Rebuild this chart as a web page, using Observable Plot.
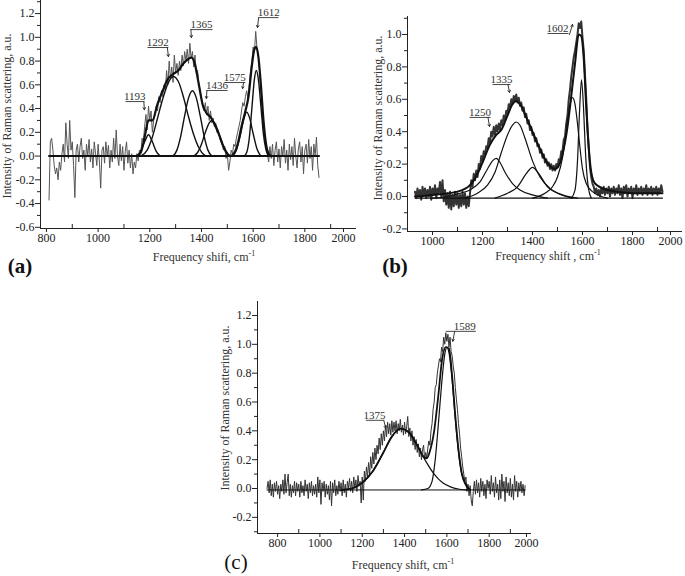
<!DOCTYPE html>
<html><head><meta charset="utf-8">
<script src="https://cdn.jsdelivr.net/npm/d3@7"></script>
<script src="https://cdn.jsdelivr.net/npm/@observablehq/plot@0.6"></script>
<style>
body{margin:0;background:#fff;}
#wrap{position:relative;width:685px;height:576px;overflow:hidden;background:#fff;font-family:"Liberation Serif","Times New Roman",serif;color:#222;}
#wrap svg{position:absolute;left:0;top:0;}
.lbl{position:absolute;white-space:nowrap;font-size:12px;color:#333;transform:translate(-50%,-50%);}
.ylbl{transform:translate(-50%,-50%) rotate(-90deg);}
.pl{position:absolute;font-size:21px;color:#111;transform:translate(-50%,-50%);}
</style></head><body><div id="wrap"></div>
<script>
// ---------- Panel (a) raw spectrum, x from 810 step 5 ----------
const rawA_x0 = 810, rawA_dx = 5;
const rawA = [
-0.37,0.12,0.15,0.05,-0.08,-0.15,-0.1,-0.2,-0.05,-0.12,
0.02,0.1,-0.05,0.28,0.1,-0.02,0.3,0.05,0.12,-0.08,
-0.35,0.05,0.1,-0.05,0.08,0.15,-0.02,0.05,-0.12,0.1,
0.0,0.14,-0.05,0.06,-0.1,0.12,0.02,-0.08,0.1,-0.05,
-0.27,0.05,0.08,-0.06,0.12,0.0,0.09,-0.1,0.05,-0.05,
0.15,-0.02,0.22,0.0,-0.08,0.1,-0.04,0.08,-0.12,0.04,
0.12,-0.06,0.05,-0.1,0.02,-0.15,-0.05,-0.1,0.02,-0.04,
0.05,0.02,0.15,0.12,0.25,0.35,0.22,0.42,0.3,0.38,
0.2,0.3,0.35,0.42,0.38,0.5,0.45,0.55,0.5,0.6,
0.55,0.72,0.6,0.8,0.65,0.75,0.62,0.85,0.7,0.78,
0.68,0.8,0.72,0.85,0.76,0.88,0.8,0.9,0.78,0.95,
0.82,0.88,0.75,0.85,0.7,0.72,0.6,0.55,0.48,0.42,
0.38,0.45,0.35,0.42,0.3,0.38,0.28,0.32,0.25,0.28,
0.2,0.22,0.15,0.12,0.1,0.05,0.08,-0.02,0.02,-0.12,
-0.05,0.05,0.02,0.1,0.08,0.15,0.2,0.25,0.3,0.38,
0.45,0.42,0.5,0.55,0.48,0.6,0.72,0.8,0.92,0.88,
1.05,0.9,0.85,0.7,0.55,0.42,0.25,0.15,0.08,0.02,
-0.05,0.08,-0.02,0.1,-0.08,0.05,0.12,-0.05,0.06,-0.1,
0.08,0.0,0.14,-0.06,0.05,-0.12,0.1,-0.03,0.08,-0.08,
0.15,0.0,-0.1,0.06,0.12,-0.05,0.08,-0.15,0.05,0.1,
-0.06,0.14,-0.02,0.08,-0.12,0.1,0.0,0.16,-0.08,-0.18];
const baseA = [[810,0],[1855,0]];
const fitA_1193 = [[1150,0],[1165,0.04],[1180,0.12],[1195,0.18],[1210,0.12],[1225,0.04],[1240,0]];
const fitA_1292 = [[1165,0],[1190,0.05],[1210,0.16],[1230,0.32],[1250,0.48],[1270,0.61],[1290,0.67],[1310,0.63],[1330,0.5],[1350,0.33],[1370,0.18],[1390,0.07],[1410,0.01],[1420,0]];
const fitA_1365 = [[1290,0],[1305,0.05],[1320,0.17],[1335,0.34],[1350,0.49],[1365,0.55],[1380,0.49],[1395,0.34],[1410,0.17],[1425,0.05],[1440,0]];
const fitA_1436 = [[1370,0],[1385,0.03],[1400,0.1],[1415,0.2],[1430,0.28],[1440,0.3],[1455,0.26],[1470,0.17],[1485,0.08],[1500,0.02],[1510,0]];
const fitA_1575 = [[1520,0],[1535,0.05],[1550,0.17],[1565,0.32],[1575,0.37],[1585,0.33],[1600,0.19],[1615,0.06],[1630,0]];
const fitA_1612 = [[1565,0],[1575,0.03],[1585,0.15],[1595,0.4],[1605,0.65],[1612,0.72],[1620,0.65],[1630,0.42],[1640,0.18],[1650,0.05],[1660,0]];
const envA = [[1150,0],[1165,0.03],[1180,0.16],[1195,0.3],[1210,0.3],[1230,0.44],[1250,0.55],[1270,0.65],[1290,0.69],[1310,0.72],[1330,0.78],[1350,0.82],[1362,0.83],[1375,0.77],[1390,0.6],[1405,0.43],[1420,0.36],[1435,0.33],[1450,0.27],[1470,0.17],[1485,0.08],[1500,0.02],[1512,0],[1525,0.02],[1540,0.1],[1555,0.25],[1570,0.38],[1582,0.5],[1595,0.76],[1605,0.9],[1612,0.92],[1620,0.84],[1630,0.6],[1640,0.3],[1650,0.1],[1660,0.02],[1670,0]];
// peak labels: text centre (tx,ty), underline (ux1..ux2 at uy), arrow (x1,y1)->(x2,y2)
const annA = [
 {label:"1193", tx:1142, ty:0.50, ux1:1106, ux2:1179, uy:0.459, x1:1177, y1:0.459, x2:1179, y2:0.39},
 {label:"1292", tx:1231, ty:0.955, ux1:1191, ux2:1272, uy:0.914, x1:1268, y1:0.914, x2:1272, y2:0.838},
 {label:"1365", tx:1400, ty:1.106, ux1:1357, ux2:1443, uy:1.065, x1:1359, y1:1.065, x2:1361, y2:0.998},
 {label:"1436", tx:1460, ty:0.593, ux1:1419, ux2:1501, uy:0.552, x1:1421, y1:0.552, x2:1419, y2:0.484},
 {label:"1575", tx:1529, ty:0.66, ux1:1489, ux2:1570, uy:0.619, x1:1563, y1:0.619, x2:1559, y2:0.568},
 {label:"1612", tx:1660, ty:1.207, ux1:1621, ux2:1698, uy:1.166, x1:1621, y1:1.166, x2:1617, y2:1.082}];
const xTicksA = [800,1000,1200,1400,1600,1800];
const xMinorA = [900,1100,1300,1500,1700,1900];
const yTicksA = [-0.6,-0.4,-0.2,0,0.2,0.4,0.6,0.8,1.0,1.2];
const yMinorA = [-0.5,-0.3,-0.1,0.1,0.3,0.5,0.7,0.9,1.1,1.3];

// ---------- Panel (b) ----------
const rawB_x0 = 930, rawB_dx = 5;
const rawB = [
0.03,-0.01,0.05,0.0,0.04,-0.02,0.06,0.01,0.05,-0.01,
0.04,0.0,0.06,-0.02,0.05,0.01,0.07,-0.01,0.05,0.02,
0.09,0.0,0.1,-0.03,0.04,-0.05,0.02,-0.07,0.03,-0.08,
0.01,-0.06,0.03,-0.05,0.02,-0.07,0.01,-0.06,0.03,-0.05,
0.02,-0.07,0.0,-0.06,0.02,0.1,0.06,0.14,0.1,0.16,
0.12,0.2,0.17,0.25,0.22,0.28,0.26,0.31,0.3,0.36,
0.33,0.4,0.37,0.43,0.38,0.44,0.4,0.45,0.41,0.47,
0.44,0.5,0.47,0.53,0.51,0.57,0.55,0.6,0.57,0.62,
0.59,0.63,0.58,0.61,0.56,0.58,0.53,0.55,0.49,0.51,
0.45,0.47,0.41,0.43,0.38,0.39,0.34,0.36,0.31,0.32,
0.27,0.29,0.24,0.26,0.21,0.23,0.19,0.21,0.17,0.2,
0.16,0.19,0.16,0.2,0.18,0.23,0.22,0.28,0.28,0.35,
0.37,0.45,0.5,0.6,0.66,0.74,0.8,0.86,0.9,0.95,
1.0,1.07,1.04,1.08,0.98,0.9,0.75,0.6,0.42,0.3,
0.18,0.12,0.08,0.06,0.02,0.05,0.01,0.04,0.0,0.05,
0.02,0.06,0.01,0.05,0.02,0.06,0.0,0.05,0.02,0.06,
0.01,0.05,0.02,0.07,0.01,0.05,-0.01,0.06,0.02,0.07,
0.0,0.05,0.02,0.06,-0.01,0.05,0.02,0.07,0.01,0.05,
0.02,0.06,0.01,0.05,0.02,0.07,0.01,0.05,0.02,0.06,
0.01,0.05,0.02,0.06,0.01,0.05,0.02,0.07,0.03];
const baseB = [[930,-0.01],[1920,-0.01]];
const fitB_1250 = [[1000,-0.01],[1060,0.0],[1110,0.02],[1150,0.04],[1190,0.09],[1220,0.17],[1240,0.22],[1255,0.235],[1270,0.21],[1290,0.15],[1320,0.08],[1350,0.04],[1400,0.01],[1460,-0.01]];
const fitB_1335 = [[1130,-0.01],[1180,0.02],[1220,0.07],[1250,0.15],[1275,0.27],[1300,0.38],[1320,0.44],[1335,0.46],[1350,0.44],[1370,0.36],[1400,0.22],[1430,0.12],[1470,0.05],[1520,0.01],[1580,-0.01]];
const fitB_1400 = [[1250,-0.01],[1300,0.02],[1340,0.06],[1370,0.13],[1390,0.17],[1400,0.18],[1410,0.17],[1430,0.13],[1460,0.06],[1500,0.02],[1560,-0.01]];
const fitB_1560 = [[1400,-0.01],[1450,0.02],[1480,0.06],[1500,0.12],[1520,0.24],[1535,0.4],[1548,0.55],[1560,0.61],[1570,0.57],[1580,0.45],[1590,0.3],[1600,0.17],[1615,0.08],[1640,0.03],[1700,-0.01]];
const fitB_1600 = [[1555,-0.01],[1570,0.04],[1580,0.22],[1588,0.52],[1596,0.72],[1604,0.55],[1612,0.27],[1622,0.07],[1635,-0.01]];
const envB = [[930,0.0],[1000,0.01],[1100,0.03],[1150,0.07],[1180,0.14],[1200,0.21],[1230,0.32],[1255,0.38],[1275,0.41],[1300,0.5],[1320,0.57],[1335,0.59],[1350,0.57],[1375,0.49],[1400,0.4],[1425,0.31],[1450,0.23],[1475,0.18],[1490,0.17],[1505,0.19],[1520,0.26],[1540,0.43],[1555,0.62],[1570,0.82],[1585,1.0],[1595,0.99],[1605,0.85],[1615,0.55],[1625,0.3],[1635,0.15],[1650,0.08],[1700,0.04],[1800,0.02],[1920,0.02]];
const annB = [
 {label:"1250", tx:1190, ty:0.519, ux1:1148, ux2:1232, uy:0.488, x1:1222, y1:0.488, x2:1228, y2:0.432},
 {label:"1335", tx:1276, ty:0.722, ux1:1240, ux2:1312, uy:0.691, x1:1302, y1:0.691, x2:1308, y2:0.642},
 {label:"1602", tx:1500, ty:1.037, ux1:1460, ux2:1544, uy:1.006, x1:1548, y1:1.0, x2:1560, y2:1.062}];
const xTicksB = [1000,1200,1400,1600,1800];
const xMinorB = [1100,1300,1500,1700,1900];
const yTicksB = [-0.2,0,0.2,0.4,0.6,0.8,1.0];
const yMinorB = [-0.1,0.1,0.3,0.5,0.7,0.9,1.1];

// ---------- Panel (c) ----------
const rawC_x0 = 750, rawC_dx = 5;
const rawC = [
0.0,0.05,-0.03,0.06,-0.05,0.03,-0.06,0.04,-0.02,0.05,
-0.04,0.02,-0.07,0.03,-0.02,0.06,-0.04,0.1,-0.03,0.04,
0.1,-0.05,0.03,-0.06,0.02,-0.03,0.05,-0.05,0.04,-0.02,
0.03,-0.06,0.05,-0.03,0.02,-0.05,0.06,-0.02,0.03,-0.07,
0.04,-0.03,0.05,-0.05,0.02,-0.04,0.03,-0.06,0.08,-0.03,
0.06,-0.11,0.04,-0.02,0.05,-0.06,0.03,-0.04,0.02,-0.08,
0.05,-0.12,0.04,-0.03,0.06,-0.05,0.02,-0.04,0.05,-0.02,
0.04,-0.05,0.06,-0.03,0.03,-0.06,0.05,0.0,0.07,-0.02,
0.05,-0.03,0.08,0.0,0.06,-0.02,0.09,0.02,0.05,-0.1,
0.08,-0.08,0.12,0.05,0.15,0.08,0.18,0.1,0.22,0.14,
0.25,0.17,0.28,0.2,0.3,0.24,0.35,0.27,0.38,0.3,
0.4,0.33,0.44,0.36,0.46,0.38,0.45,0.37,0.47,0.39,
0.46,0.4,0.47,0.38,0.45,0.4,0.48,0.39,0.44,0.37,
0.46,0.38,0.43,0.5,0.36,0.42,0.33,0.4,0.3,0.36,
0.27,0.34,0.25,0.31,0.22,0.28,0.2,0.27,0.3,0.2,
0.25,0.21,0.28,0.33,0.3,0.4,0.45,0.55,0.6,0.7,
0.72,0.8,0.85,0.9,0.88,0.98,0.95,1.05,1.0,1.08,
1.02,1.07,0.98,1.05,0.95,0.92,0.85,0.8,0.7,0.62,
0.55,0.45,0.38,0.28,0.22,0.15,0.1,0.05,0.08,-0.02,
0.03,-0.05,0.02,-0.08,-0.12,-0.02,0.05,-0.04,0.06,-0.03,
0.04,-0.06,0.07,-0.02,0.05,-0.05,0.03,-0.07,0.06,0.0,
0.05,-0.04,0.09,-0.02,0.04,-0.06,0.08,-0.03,0.03,-0.08,
0.06,-0.07,0.1,-0.02,0.05,-0.09,0.08,-0.03,0.04,-0.05,
0.07,-0.06,0.03,-0.08,0.09,-0.02,0.05,-0.06,0.04,-0.02,
0.05,-0.03,0.03,-0.05,0.02];
const baseC = [[750,-0.01],[1970,-0.01]];
const fitC_1375 = [[1100,-0.01],[1150,0.0],[1200,0.04],[1250,0.12],[1300,0.25],[1340,0.36],[1380,0.415],[1420,0.39],[1460,0.3],[1500,0.19],[1540,0.1],[1580,0.04],[1620,0.01],[1660,-0.005],[1700,-0.01]];
const fitC_1589 = [[1480,-0.01],[1510,0.0],[1530,0.05],[1545,0.2],[1560,0.45],[1575,0.72],[1590,0.93],[1600,0.98],[1610,0.94],[1625,0.75],[1640,0.48],[1655,0.25],[1670,0.1],[1690,0.02],[1710,-0.01]];
const envC = [[1100,-0.01],[1150,0.0],[1200,0.04],[1250,0.12],[1300,0.25],[1340,0.36],[1380,0.415],[1420,0.39],[1460,0.3],[1490,0.22],[1505,0.21],[1520,0.26],[1540,0.4],[1560,0.65],[1578,0.9],[1595,0.98],[1610,0.97],[1625,0.78],[1640,0.5],[1655,0.27],[1670,0.11],[1690,0.03],[1710,-0.01]];
const annC = [
 {label:"1375", tx:1258, ty:0.505, ux1:1217, ux2:1302, uy:0.473, x1:1302, y1:0.473, x2:1311, y2:0.418},
 {label:"1589", tx:1684, ty:1.122, ux1:1595, ux2:1737, uy:1.09, x1:1637, y1:1.09, x2:1628, y2:1.021}];
const xTicksC = [800,1000,1200,1400,1600,1800];
const xMinorC = [900,1100,1300,1500,1700,1900];
const yTicksC = [-0.2,0,0.2,0.4,0.6,0.8,1.0,1.2];
const yMinorC = [-0.3,-0.1,0.1,0.3,0.5,0.7,0.9,1.1];

// ---------- drawing ----------
const W = 685, H = 576;
const pts = a => a.map(([x, y]) => ({x, y}));
const rawPts = (arr, x0, dx) => arr.map((y, i) => ({x: x0 + i * dx, y}));

function panel(o) {
  const fmt = d => d.toFixed(1);
  const marks = [
    Plot.ruleX([o.xDomain[0]], {stroke: "#222", strokeWidth: 1}),
    Plot.ruleY([o.yDomain[0]], {stroke: "#222", strokeWidth: 1}),
    Plot.axisY(o.yTicks, {tickSize: 5, tickPadding: 1, tickFormat: fmt, label: null, fontSize: 12}),
    Plot.axisY(o.yMinor, {tickSize: 3, tickFormat: () => "", label: null}),
    Plot.axisX(o.xTicks, {tickSize: 4, tickPadding: 1, tickFormat: d => String(d), label: null, fontSize: 12}),
    Plot.axisX([2000], {tickSize: 4, tickPadding: 1, tickFormat: d => String(d), label: null, fontSize: 12, dx: o.dx2000}),
    Plot.axisX(o.xMinor, {tickSize: 4, insetBottom: 4, tickFormat: () => "", label: null}),
    Plot.line(rawPts(o.raw, o.x0, o.dx), {x: "x", y: "y", stroke: o.rawColor, strokeWidth: o.rawWidth}),
    Plot.line(pts(o.base), {x: "x", y: "y", stroke: "#111", strokeWidth: o.baseWidth}),
    ...o.comps.map(c => Plot.line(pts(c), {x: "x", y: "y", curve: "monotone-x", stroke: "#111", strokeWidth: o.compWidth})),
    Plot.line(pts(o.env), {x: "x", y: "y", curve: "monotone-x", stroke: "#111", strokeWidth: o.envWidth}),
    Plot.text(o.ann, {x: "tx", y: "ty", text: "label", fontSize: 11, fill: "#333"}),
    Plot.link(o.ann, {x1: "ux1", x2: "ux2", y1: "uy", y2: "uy", stroke: "#333", strokeWidth: 0.9}),
    Plot.arrow(o.ann, {x1: "x1", y1: "y1", x2: "x2", y2: "y2", stroke: "#222", strokeWidth: 0.9, headLength: 4})
  ];
  return Plot.plot({
    width: W, height: H,
    marginLeft: o.frame[0], marginRight: W - o.frame[1],
    marginTop: o.frame[2], marginBottom: H - o.frame[3],
    x: {domain: o.xDomain},
    y: {domain: o.yDomain},
    style: {background: "transparent", overflow: "visible", fontFamily: "'Liberation Serif','Times New Roman',serif", fontSize: "12px", color: "#222"},
    marks
  });
}

const wrap = document.getElementById("wrap");
wrap.append(panel({
  frame: [40, 356, 0, 228], xDomain: [777, 2000], yDomain: [-0.61, 1.31],
  xTicks: xTicksA, xMinor: xMinorA, yTicks: yTicksA, yMinor: yMinorA, dx2000: -13,
  raw: rawA, x0: rawA_x0, dx: rawA_dx, rawColor: "#555", rawWidth: 1,
  base: baseA, baseWidth: 2, comps: [fitA_1193, fitA_1292, fitA_1365, fitA_1436, fitA_1575, fitA_1612], compWidth: 1.4,
  env: envA, envWidth: 2.2, ann: annA
}));
wrap.append(panel({
  frame: [407, 682, 16, 231], xDomain: [900, 2000], yDomain: [-0.216, 1.111],
  xTicks: xTicksB, xMinor: xMinorB, yTicks: yTicksB, yMinor: yMinorB, dx2000: -12,
  raw: rawB, x0: rawB_x0, dx: rawB_dx, rawColor: "#333", rawWidth: 2,
  base: baseB, baseWidth: 1.2, comps: [fitB_1250, fitB_1335, fitB_1400, fitB_1560, fitB_1600], compWidth: 1.2,
  env: envB, envWidth: 2, ann: annB
}));
wrap.append(panel({
  frame: [257, 531, 301, 533], xDomain: [705, 2000], yDomain: [-0.312, 1.297],
  xTicks: xTicksC, xMinor: xMinorC, yTicks: yTicksC, yMinor: yMinorC, dx2000: -5,
  raw: rawC, x0: rawC_x0, dx: rawC_dx, rawColor: "#333", rawWidth: 1,
  base: baseC, baseWidth: 1, comps: [fitC_1375, fitC_1589], compWidth: 1.2,
  env: envC, envWidth: 1.8, ann: annC
}));

function addLabel(html, x, y, cls) {
  const d = document.createElement("div");
  d.className = cls;
  d.style.left = x + "px"; d.style.top = y + "px";
  d.innerHTML = html;
  wrap.append(d);
}
const cm = "cm<sup style=\"font-size:8px;vertical-align:5px\">-1</sup>";
addLabel("Intensity of Raman scattering, a.u.", 7, 116, "lbl ylbl");
addLabel("Intensity of Raman scattering, a.u.", 378, 118, "lbl ylbl");
addLabel("Intensity of Raman scattering, a.u.", 225, 408, "lbl ylbl");
addLabel("Frequency shifi, " + cm, 204, 257, "lbl");
addLabel("Frequency shift , " + cm, 548, 256, "lbl");
addLabel("Frequency shift, " + cm, 403, 565, "lbl");
addLabel("<b>(a)</b>", 20, 266, "pl");
addLabel("<b>(b)</b>", 395, 266, "pl");
addLabel("(c)", 236, 562, "pl");
</script></body></html>
